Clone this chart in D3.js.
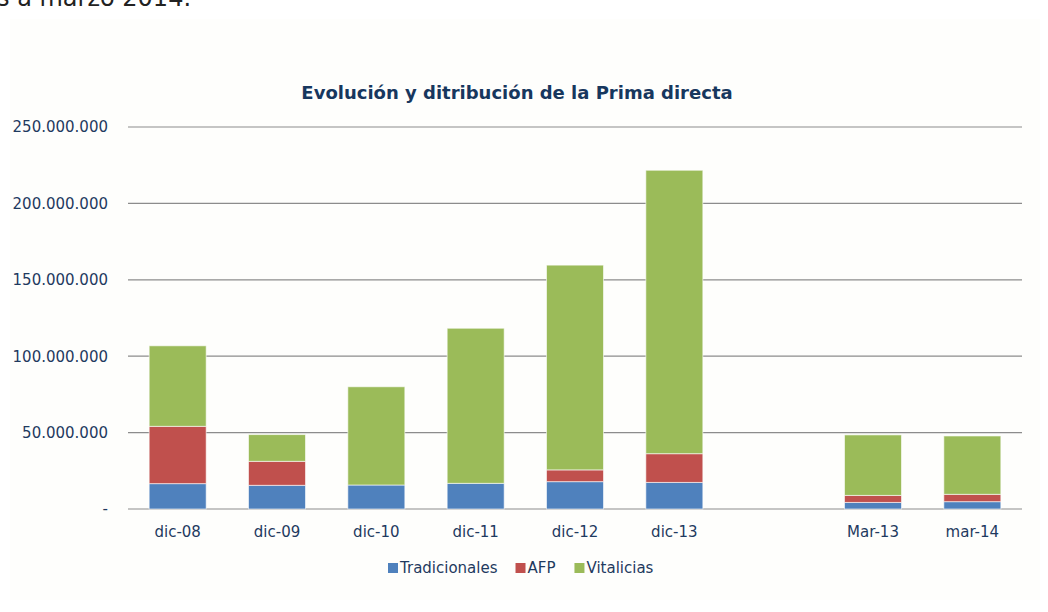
<!DOCTYPE html>
<html>
<head>
<meta charset="utf-8">
<script src="https://cdn.jsdelivr.net/npm/d3@7/dist/d3.min.js"></script>
<style>
  body { margin: 0; background: #ffffff; }
  svg { display: block; }
</style>
</head>
<body>
<div id="chart"></div>
<script>
// categories (empty slot between dic-13 and Mar-13)
const categories = ['dic-08', 'dic-09', 'dic-10', 'dic-11', 'dic-12', 'dic-13', '', 'Mar-13', 'mar-14'];
const seriesNames = ['Tradicionales', 'AFP', 'Vitalicias'];
const tradicionales = [16.6, 15.5, 15.7, 16.8, 17.9, 17.4, 0, 4.3, 4.8].map(v => v * 1e6);
const afp           = [37.5, 15.7, 0.0, 0.0, 7.7, 18.8, 0, 4.6, 4.8].map(v => v * 1e6);
const vitalicias    = [52.7, 17.5, 64.3, 101.5, 134.0, 185.5, 0, 39.6, 38.2].map(v => v * 1e6);
const yTicks = [0, 50e6, 100e6, 150e6, 200e6, 250e6];
const colors = ['#4f81bd', '#c0504d', '#9bbb59'];

const svgWidth = 1048;
const svgHeight = 612;
const margin = {top: 127, right: 26, bottom: 103, left: 128};
const width = svgWidth - margin.left - margin.right;
const height = svgHeight - margin.top - margin.bottom;

const svg = d3.select('#chart').append('svg')
    .attr('width', svgWidth)
    .attr('height', svgHeight);

// cut-off line of text above the chart
svg.append('text')
    .attr('x', -3)
    .attr('y', 6)
    .attr('font-family', 'DejaVu Sans, sans-serif')
    .attr('font-size', 24)
    .attr('fill', '#222')
    .text('s a marzo 2014.');

// chart area background
svg.append('rect')
    .attr('x', 10).attr('y', 19)
    .attr('width', 1030).attr('height', 581)
    .attr('fill', '#fefefc');

svg.append('text')
    .attr('x', 517)
    .attr('y', 99)
    .attr('text-anchor', 'middle')
    .attr('font-family', 'DejaVu Sans, sans-serif')
    .attr('font-weight', 'bold')
    .attr('font-size', 18)
    .attr('fill', '#17375e')
    .text('Evolución y ditribución de la Prima directa');

const g = svg.append('g').attr('transform', `translate(${margin.left},${margin.top})`);

const x = d3.scaleBand().domain(categories).range([0, width])
    .paddingInner(0.426).paddingOuter(0.213);
const y = d3.scaleLinear().domain([0, 250e6]).range([height, 0]);

// gridlines
g.selectAll('.grid').data(yTicks).enter().append('line')
    .attr('x1', 0).attr('x2', width)
    .attr('y1', d => y(d)).attr('y2', d => y(d))
    .attr('stroke', '#8c8c8c').attr('stroke-width', 1.2);

const fmt = d => d === 0 ? '-' : d3.format(',')(d).replace(/,/g, '.');

const yAxis = g.append('g').call(d3.axisLeft(y).tickValues(yTicks).tickFormat(fmt).tickSize(0).tickPadding(20));
yAxis.select('.domain').remove();
yAxis.selectAll('text')
    .attr('font-family', 'DejaVu Sans, sans-serif')
    .attr('font-size', 15)
    .attr('fill', '#1f3a5f');

const xAxis = g.append('g').attr('transform', `translate(0,${height})`)
    .call(d3.axisBottom(x).tickSize(0).tickPadding(17));
xAxis.select('.domain').remove();
xAxis.selectAll('text')
    .attr('font-family', 'DejaVu Sans, sans-serif')
    .attr('font-size', 15)
    .attr('fill', '#1f3a5f');

// stacked bars
const rows = categories.map((c, i) => ({
    cat: c, Tradicionales: tradicionales[i], AFP: afp[i], Vitalicias: vitalicias[i]
}));
const stacked = d3.stack().keys(seriesNames)(rows);

g.selectAll('.layer').data(stacked).enter().append('g')
    .attr('fill', (d, i) => colors[i])
    .selectAll('rect').data(d => d.filter(p => p[1] - p[0] > 0)).enter().append('rect')
    .attr('x', d => x(d.data.cat))
    .attr('width', x.bandwidth())
    .attr('y', d => y(d[1]))
    .attr('height', d => y(d[0]) - y(d[1]))
    .attr('stroke', 'rgba(255,255,255,0.6)')
    .attr('stroke-width', 1);

// legend
const legend = svg.append('g').attr('transform', 'translate(388,573)');
let lx = 0;
const legendGap = [0, 18, 19];
seriesNames.forEach((name, i) => {
    lx += legendGap[i];
    legend.append('rect')
        .attr('x', lx).attr('y', -10)
        .attr('width', 10).attr('height', 10)
        .attr('fill', colors[i]);
    const t = legend.append('text')
        .attr('x', lx + 12).attr('y', 0)
        .attr('font-family', 'DejaVu Sans, sans-serif')
        .attr('font-size', 15)
        .attr('fill', '#1f3a5f')
        .text(name);
    lx += 12 + t.node().getComputedTextLength();
});
</script>
</body>
</html>
